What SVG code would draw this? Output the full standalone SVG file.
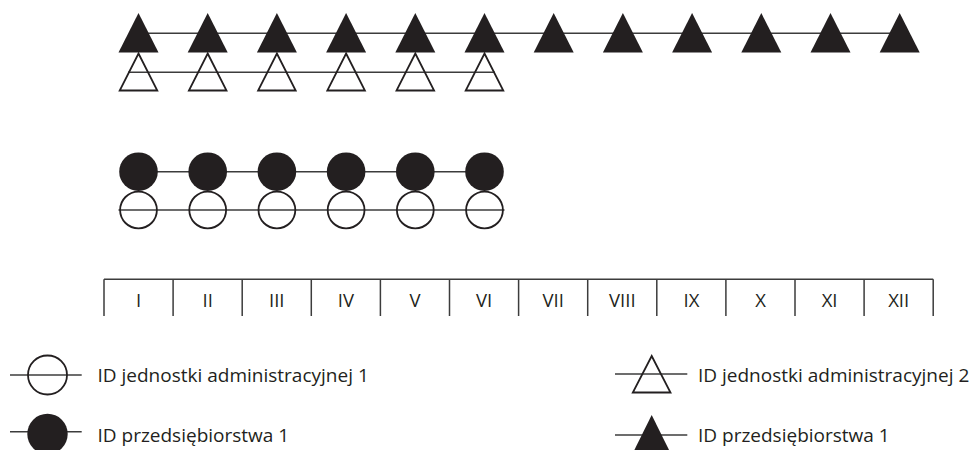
<svg xmlns="http://www.w3.org/2000/svg" xmlns:xlink="http://www.w3.org/1999/xlink" width="979" height="450" viewBox="0 0 979 450">
<style>
.ln{stroke:#3c3c3c;stroke-width:1.6;fill:none}
.tb{stroke:#3c3c3c;stroke-width:1.5;fill:none}
.fill{fill:#231f20;stroke:none}
.hol{fill:none;stroke:#231f20;stroke-width:1.8}
.mo{font-family:"Open Sans","Liberation Sans",sans-serif;font-size:18.5px;fill:#231f20;text-anchor:middle}
.lg{font-family:"Open Sans","Liberation Sans",sans-serif;font-size:19px;fill:#231f20}
</style>
<defs>
<path id="triF" class="fill" d="M0,-19.7 L20,19.7 L-20,19.7 Z"/>
<path id="triH" class="hol" d="M0,-18.5 L18.8,18.5 L-18.8,18.5 Z"/>
<circle id="cirF" class="fill" r="19.3"/>
<circle id="cirH" class="hol" r="18.4"/>
</defs>
<rect width="979" height="450" fill="#fff"/>
<g id="connectors">
<line class="ln" x1="138.5" y1="33.3" x2="899.7" y2="33.3"/>
<line class="ln" x1="128" y1="72.3" x2="495" y2="72.3"/>
<line class="ln" x1="138.5" y1="171.7" x2="484.5" y2="171.7"/>
<line class="ln" x1="118.5" y1="210" x2="504.5" y2="210"/>
</g>
<g id="enterprise-triangles">
<use xlink:href="#triF" x="138.5" y="32.7"/>
<use xlink:href="#triF" x="207.7" y="32.7"/>
<use xlink:href="#triF" x="276.9" y="32.7"/>
<use xlink:href="#triF" x="346.1" y="32.7"/>
<use xlink:href="#triF" x="415.3" y="32.7"/>
<use xlink:href="#triF" x="484.5" y="32.7"/>
<use xlink:href="#triF" x="553.7" y="32.7"/>
<use xlink:href="#triF" x="622.9" y="32.7"/>
<use xlink:href="#triF" x="692.1" y="32.7"/>
<use xlink:href="#triF" x="761.3" y="32.7"/>
<use xlink:href="#triF" x="830.5" y="32.7"/>
<use xlink:href="#triF" x="899.7" y="32.7"/>
</g>
<g id="admin2-triangles">
<use xlink:href="#triH" x="138.5" y="72"/>
<use xlink:href="#triH" x="207.7" y="72"/>
<use xlink:href="#triH" x="276.9" y="72"/>
<use xlink:href="#triH" x="346.1" y="72"/>
<use xlink:href="#triH" x="415.3" y="72"/>
<use xlink:href="#triH" x="484.5" y="72"/>
</g>
<g id="enterprise-circles">
<use xlink:href="#cirF" x="138.5" y="171.7"/>
<use xlink:href="#cirF" x="207.7" y="171.7"/>
<use xlink:href="#cirF" x="276.9" y="171.7"/>
<use xlink:href="#cirF" x="346.1" y="171.7"/>
<use xlink:href="#cirF" x="415.3" y="171.7"/>
<use xlink:href="#cirF" x="484.5" y="171.7"/>
</g>
<g id="admin1-circles">
<use xlink:href="#cirH" x="138.5" y="210"/>
<use xlink:href="#cirH" x="207.7" y="210"/>
<use xlink:href="#cirH" x="276.9" y="210"/>
<use xlink:href="#cirH" x="346.1" y="210"/>
<use xlink:href="#cirH" x="415.3" y="210"/>
<use xlink:href="#cirH" x="484.5" y="210"/>
</g>
<g id="months">
<path class="tb" d="M104,279.3 H933.2 M104,279.3 V316 M173.1,279.3 V316 M242.2,279.3 V316 M311.3,279.3 V316 M380.4,279.3 V316 M449.5,279.3 V316 M518.6,279.3 V316 M587.7,279.3 V316 M656.8,279.3 V316 M725.9,279.3 V316 M795,279.3 V316 M864.1,279.3 V316 M933.2,279.3 V316"/>
<text class="mo" x="138.6" y="306.7">I</text>
<text class="mo" x="207.7" y="306.7">II</text>
<text class="mo" x="276.8" y="306.7">III</text>
<text class="mo" x="345.9" y="306.7">IV</text>
<text class="mo" x="415" y="306.7">V</text>
<text class="mo" x="484.1" y="306.7">VI</text>
<text class="mo" x="553.2" y="306.7">VII</text>
<text class="mo" x="622.3" y="306.7">VIII</text>
<text class="mo" x="691.4" y="306.7">IX</text>
<text class="mo" x="760.5" y="306.7">X</text>
<text class="mo" x="829.6" y="306.7">XI</text>
<text class="mo" x="898.7" y="306.7">XII</text>
</g>
<g id="legend-admin1">
<line class="ln" x1="10" y1="375" x2="81.7" y2="375"/>
<circle class="hol" cx="47.5" cy="375" r="19.5"/>
<text class="lg" x="97.5" y="381.7">ID jednostki administracyjnej 1</text>
</g>
<g id="legend-enterprise-circle">
<line class="ln" x1="10" y1="431.7" x2="81.7" y2="431.7"/>
<circle class="fill" cx="47.5" cy="434" r="20.2"/>
<text class="lg" x="97.5" y="441.7">ID przedsiębiorstwa 1</text>
</g>
<g id="legend-admin2">
<line class="ln" x1="615" y1="374" x2="687.3" y2="374"/>
<path class="hol" d="M651.7,356 L670.5,392.5 L632.8,392.5 Z"/>
<text class="lg" x="698" y="381.7">ID jednostki administracyjnej 2</text>
</g>
<g id="legend-enterprise-triangle">
<line class="ln" x1="615" y1="435" x2="687.3" y2="435"/>
<path class="fill" d="M651.7,415 L672,456 L631.4,456 Z"/>
<text class="lg" x="698" y="441.7">ID przedsiębiorstwa 1</text>
</g>
</svg>
